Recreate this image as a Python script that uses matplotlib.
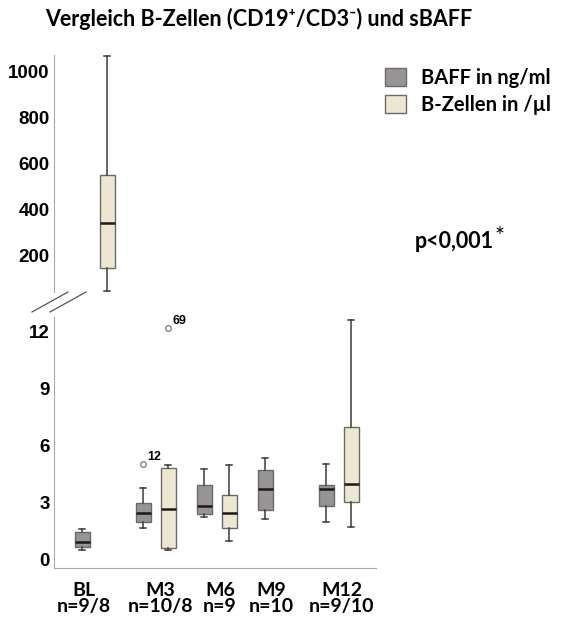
"""
Vergleich B-Zellen und sBAFF - box plots with a broken y axis
"""
import numpy as np
import matplotlib.pyplot as plt
from matplotlib.patches import Patch

groups = ['BL', 'M3', 'M6', 'M9', 'M12']
n_labels = ['n=9/8', 'n=10/8', 'n=9', 'n=10', 'n=9/10']

# BAFF in ng/ml (gray), all five time points
baff_lo = [0.47, 1.66, 2.19, 2.12, 1.94]
baff_q1 = [0.63, 1.94, 2.36, 2.61, 2.77]
baff_med = [0.89, 2.42, 2.80, 3.69, 3.70]
baff_q3 = [1.42, 2.95, 3.88, 4.69, 3.90]
baff_hi = [1.58, 3.74, 4.74, 5.33, 5.01]
baff_out = [[], [5.01], [], [], []]

# B-Zellen in /ul (beige), no value at M9
bz_groups = [0, 1, 2, 4]
bz_lo = [43, 0.48, 0.95, 1.69]
bz_q1 = [143, 0.60, 1.66, 3.00]
bz_med = [339, 2.63, 2.42, 3.98]
bz_q3 = [548, 4.81, 3.39, 6.95]
bz_hi = [1065, 4.97, 4.97, 12.59]
bz_out = [[], [12.17], [], []]

# case numbers of outliers
out_ids = [('12', 1, -1, 5.01), ('69', 1, 1, 12.17)]

gray = '#989494'
beige = '#ede6d1'
edge = '#6a6a6a'
off = 0.205
w = 0.25

txt_font = ['Lato', 'DejaVu Sans']
tick_font = 'Liberation Sans'


def stats(lo, q1, med, q3, hi, fl):
    return [dict(whislo=a, q1=b, med=c, q3=d, whishi=e, fliers=f)
            for a, b, c, d, e, f in zip(lo, q1, med, q3, hi, fl)]


def draw(ax, st, pos, color):
    ax.bxp(st, positions=pos, widths=w, patch_artist=True,
           boxprops=dict(facecolor=color, edgecolor=edge, linewidth=1),
           medianprops=dict(color='#1a1a1a', linewidth=1.8),
           whiskerprops=dict(color='#3a3a3a', linewidth=1.1),
           capprops=dict(color='#3a3a3a', linewidth=1.1),
           capwidths=0.1,
           flierprops=dict(marker='o', markersize=4, markerfacecolor='white',
                           markeredgecolor='#777777', markeredgewidth=0.9))


def style(ax):
    for s in ['top', 'right']:
        ax.spines[s].set_visible(False)
    ax.spines['left'].set_color('#a8a8a8')
    ax.spines['bottom'].set_color('#a8a8a8')
    ax.tick_params(length=0, pad=3)
    for lab in ax.get_yticklabels():
        lab.set_fontfamily(tick_font)
        lab.set_fontweight('bold')
        lab.set_fontsize(13.5)


fig = plt.figure(figsize=(5.61, 6.19), dpi=100)
W, H = 561, 619
x0, x1 = 54, 376

# upper panel (B-Zellen at baseline)
ax_top = fig.add_axes([x0 / W, 1 - 292 / H, (x1 - x0) / W, (292 - 55) / H])
bl = [i for i, g in enumerate(bz_groups) if g == 0]
st_top = stats([bz_lo[i] for i in bl], [bz_q1[i] for i in bl], [bz_med[i] for i in bl],
               [bz_q3[i] for i in bl], [bz_hi[i] for i in bl], [bz_out[i] for i in bl])
draw(ax_top, st_top, [0 + off], beige)
ax_top.set_xlim(-0.67, 4.61)
ax_top.set_ylim(40, 1070)
ax_top.set_yticks([200, 400, 600, 800, 1000])
ax_top.set_xticks([])
ax_top.spines['bottom'].set_visible(False)
style(ax_top)

# lower panel
ax = fig.add_axes([x0 / W, 1 - 568 / H, (x1 - x0) / W, (568 - 317) / H])
pos = np.arange(len(groups))
draw(ax, stats(baff_lo, baff_q1, baff_med, baff_q3, baff_hi, baff_out), pos - off, gray)
rest = [i for i, g in enumerate(bz_groups) if g != 0]
st_low = stats([bz_lo[i] for i in rest], [bz_q1[i] for i in rest], [bz_med[i] for i in rest],
               [bz_q3[i] for i in rest], [bz_hi[i] for i in rest], [bz_out[i] for i in rest])
draw(ax, st_low, [bz_groups[i] + off for i in rest], beige)
ax.set_xlim(-0.67, 4.61)
ax.set_ylim(-0.47, 12.75)
ax.set_yticks([0, 3, 6, 9, 12])
label_pos = [-0.18, 1.07, 2.05, 2.89, 4.05]
ax.set_xticks(label_pos)
ax.set_xticklabels([f'{g}\n{n}' for g, n in zip(groups, n_labels)],
                   fontfamily=txt_font, fontweight='bold', fontsize=14, linespacing=0.95)
style(ax)
ax.tick_params(axis='x', pad=10)

for lab, g, side, v in out_ids:
    ax.annotate(lab, (g + side * off, v), xytext=(3, 1), textcoords='offset points',
                fontfamily=tick_font, fontweight='bold', fontsize=9, va='bottom')

# break marks
for dx in [0, 18]:
    fig.add_artist(plt.Line2D([(32 + dx) / W, (68 + dx) / W], [1 - 312 / H, 1 - 292 / H],
                              color='#555555', linewidth=0.9))

fig.text(45 / W, 1 - 19 / H, 'Vergleich B-Zellen (CD19⁺/CD3⁻) und sBAFF',
         ha='left', va='center', fontfamily=txt_font, fontweight='bold', fontsize=15.5)

handles = [Patch(facecolor=gray, edgecolor=edge, label='BAFF in ng/ml'),
           Patch(facecolor=beige, edgecolor=edge, label='B-Zellen in /µl')]
fig.legend(handles=handles, loc='upper left', bbox_to_anchor=(385 / W, 1 - 68 / H),
           frameon=False, prop=dict(family=txt_font, weight='bold', size=14.5),
           handlelength=1.05, handleheight=1.0, handletextpad=0.75, labelspacing=0.35,
           borderpad=0, borderaxespad=0)

fig.text(415 / W, 1 - 242 / H, 'p<0,001', ha='left', va='center',
         fontfamily=txt_font, fontweight='bold', fontsize=15.5)
fig.text(495 / W, 1 - 236 / H, '*', ha='left', va='center',
         fontfamily=txt_font, fontsize=17)

fig.savefig('out.png', dpi=100)
